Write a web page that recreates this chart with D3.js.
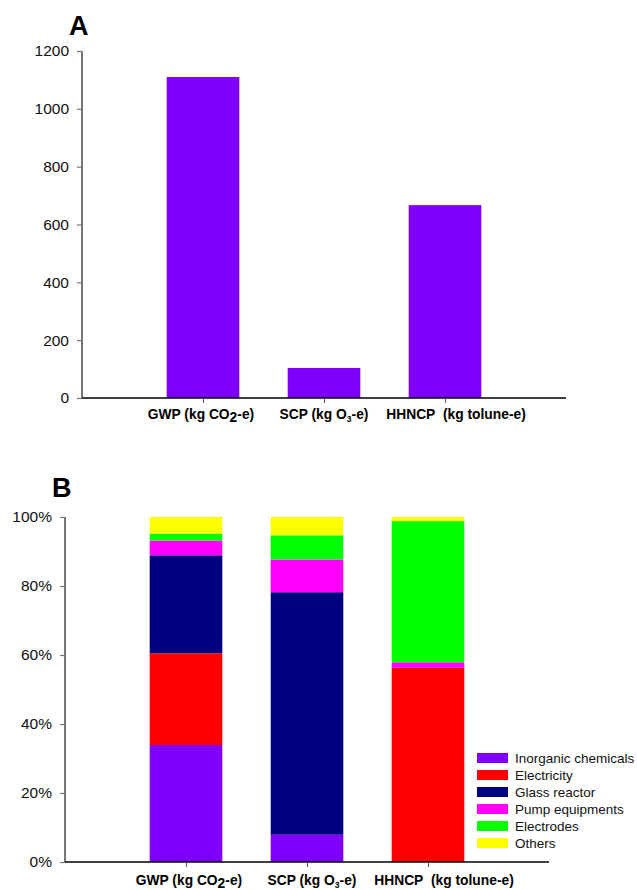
<!DOCTYPE html>
<html>
<head>
<meta charset="utf-8">
<script src="https://cdn.jsdelivr.net/npm/d3@7/dist/d3.min.js"></script>
<style>
body{margin:0;background:#fff;}
text{font-family:"Liberation Sans",Arial,sans-serif;}
</style>
</head>
<body>
<svg id="chart" width="637" height="890"></svg>
<script>
// Data
const categories = ["GWP", "SCP", "HHNCP"];
const totals = [1110, 104, 667];
const yTicksA = [0, 200, 400, 600, 800, 1000, 1200];
const components = ["Inorganic chemicals", "Electricity", "Glass reactor", "Pump equipments", "Electrodes", "Others"];
const colors = ["#8000ff", "#ff0000", "#000080", "#ff00ff", "#00ff00", "#ffff00"];
const inorganic = [33.9, 7.9, 0];
const electricity = [26.6, 0, 56.3];
const glassReactor = [28.4, 70.3, 0];
const pumpEquip = [4.3, 9.5, 1.6];
const electrodes = [2.0, 7.0, 40.9];
const others = [4.8, 5.3, 1.2];
const yTicksB = [0, 20, 40, 60, 80, 100];

const svg = d3.select("#chart");

function catLabel(g, x, y, i) {
  const t = g.append("text").attr("x", x).attr("y", y).attr("text-anchor", "middle")
    .attr("font-size", 13.8).attr("font-weight", "bold").attr("fill", "#000");
  if (i === 0) {
    t.append("tspan").text("GWP (kg CO");
    t.append("tspan").attr("dy", 3).text("2");
    t.append("tspan").attr("dy", -3).text("-e)");
  } else if (i === 1) {
    t.append("tspan").text("SCP (kg O");
    t.append("tspan").attr("dy", 3).attr("font-size", 8.5).text("3");
    t.append("tspan").attr("dy", -3).text("-e)");
  } else {
    t.append("tspan").text("HHNCP\u00a0 (kg tolune-e)");
  }
}

function drawAxes(g, x, y, x0, x1, yTop, yBot, ticks, fmt) {
  const ya = g.append("g").attr("transform", `translate(${x0},0)`)
    .call(d3.axisLeft(y).tickValues(ticks).tickSize(5).tickPadding(8).tickFormat(fmt));
  ya.select(".domain").attr("stroke", "#777").attr("stroke-width", 2).attr("d", `M0,${yTop}V${yBot}`);
  ya.selectAll(".tick line").attr("stroke", "#777").attr("stroke-width", 1.2);
  ya.selectAll(".tick text").attr("font-size", 15.5).attr("font-family", "Liberation Sans, Arial, sans-serif").attr("fill", "#111");
  const xa = g.append("g").attr("transform", `translate(0,${yBot})`)
    .call(d3.axisBottom(x).tickValues([1, 2, 3]).tickSize(5).tickFormat(""));
  xa.select(".domain").attr("stroke", "#000").attr("stroke-width", 1.5).attr("d", `M${x0},0H${x1}`);
  xa.selectAll(".tick line").attr("stroke", "#555");
}

// ---------- Chart A ----------
{
  const x0 = 82, x1 = 566, yTop = 51, yBot = 398;
  const x = d3.scaleLinear().domain([0, 4]).range([x0, x1]);
  const y = d3.scaleLinear().domain([0, 1200]).range([yBot, yTop]);
  const bw = (x(1) - x(0)) * 0.6;
  const g = svg.append("g");
  g.selectAll("rect").data(totals).join("rect")
    .attr("x", (d, i) => x(i + 1) - bw / 2)
    .attr("y", d => y(d))
    .attr("width", bw)
    .attr("height", d => yBot - y(d))
    .attr("fill", colors[0]);
  drawAxes(g, x, y, x0, x1, yTop, yBot, yTicksA, d3.format("d"));
  const offs = [-2, 0, 11];
  categories.forEach((c, i) => catLabel(g, x(i + 1) + offs[i], 419, i));
  g.append("text").attr("x", 69).attr("y", 35).attr("font-size", 27).attr("font-weight", "bold").text("A");
}

// ---------- Chart B ----------
{
  const x0 = 65, x1 = 549, yTop = 517, yBot = 862;
  const x = d3.scaleLinear().domain([0, 4]).range([x0, x1]);
  const y = d3.scaleLinear().domain([0, 100]).range([yBot, yTop]);
  const bw = (x(1) - x(0)) * 0.6;
  const series = [inorganic, electricity, glassReactor, pumpEquip, electrodes, others];
  const table = categories.map((c, i) => {
    const o = { cat: c, idx: i };
    components.forEach((k, j) => o[k] = series[j][i]);
    return o;
  });
  const stack = d3.stack().keys(components)(table);
  const g = svg.append("g");
  g.selectAll("g.layer").data(stack).join("g").attr("class", "layer")
    .attr("fill", (d, j) => colors[j])
    .selectAll("rect").data(d => d).join("rect")
    .attr("x", d => x(d.data.idx + 1) - bw / 2)
    .attr("y", d => y(d[1]))
    .attr("width", bw)
    .attr("height", d => Math.max(0, y(d[0]) - y(d[1])));
  drawAxes(g, x, y, x0, x1, yTop, yBot, yTicksB, d => d + "%");
  const offs = [3, 5, 16];
  categories.forEach((c, i) => catLabel(g, x(i + 1) + offs[i], 885, i));
  g.append("text").attr("x", 52).attr("y", 497).attr("font-size", 27).attr("font-weight", "bold").text("B");

  // Legend
  const lg = g.append("g").attr("transform", "translate(477,753)");
  components.forEach((k, j) => {
    lg.append("rect").attr("x", 0).attr("y", j * 17).attr("width", 31).attr("height", 10).attr("fill", colors[j]);
    lg.append("text").attr("x", 38).attr("y", j * 17 + 10).attr("font-size", 13.5).attr("fill", "#111").text(k);
  });
}
</script>
</body>
</html>
